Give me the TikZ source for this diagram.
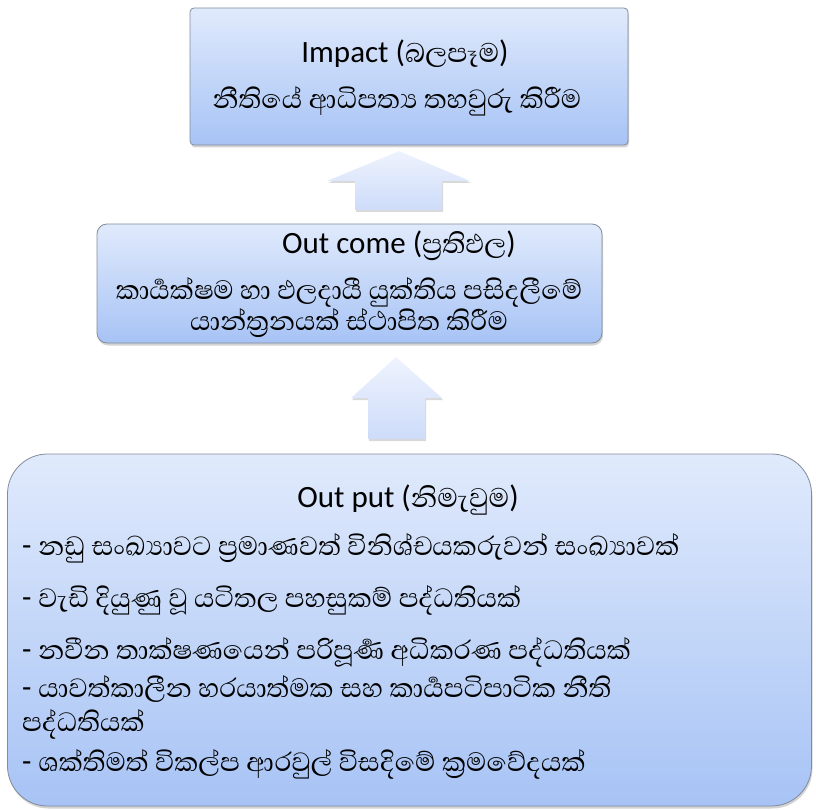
\documentclass[tikz,border=0pt]{standalone}
\usepackage{fontspec}
\setmainfont{Carlito}
\newfontfamily\sinfont[Script=Sinhala, Scale=1.11]{Abhaya Libre}
\usetikzlibrary{shadows}

\definecolor{boxtop}{RGB}{224,234,252}
\definecolor{boxbottom}{RGB}{167,195,245}
\definecolor{boxline}{RGB}{130,140,155}
\definecolor{arrowtop}{RGB}{238,243,253}
\definecolor{arrowbottom}{RGB}{206,220,250}

\tikzset{
  stage/.style={draw=boxline, line width=0.8pt, top color=boxtop, bottom color=boxbottom,
    drop shadow={shadow xshift=1pt, shadow yshift=-2.5pt, opacity=0.35}},
  uparrow/.style={top color=arrowtop, bottom color=arrowbottom,
    drop shadow={shadow xshift=1pt, shadow yshift=-2pt, opacity=0.3}},
  head/.style={anchor=mid, inner sep=0pt, font=\fontsize{31}{36}\selectfont},
  line/.style={anchor=mid, inner sep=0pt, font=\fontsize{30.5}{36}\selectfont},
  item/.style={anchor=mid west, inner sep=0pt, font=\fontsize{30.5}{36}\selectfont},
}

\begin{document}
\begin{tikzpicture}[x=1pt, y=-1pt]
		\useasboundingbox (0,0) rectangle (816,810);

		% boxes
		\node[stage, rounded corners=4pt, minimum width=438pt, minimum height=137pt] (impact) at (409,76.5) {};
		\node[stage, rounded corners=10pt, minimum width=505pt, minimum height=119pt] (outcome) at (349.5,283.5) {};
		\node[stage, rounded corners=40pt, minimum width=804pt, minimum height=352pt] (output) at (409.5,630) {};

		% block arrows
		\path[uparrow] (355,210) -- (355,181) -- (327,181) -- (399,151) -- (470,181) -- (442,181) -- (442,210) -- cycle;
		\path[uparrow] (368,439) -- (368,398) -- (351,398) -- (396,357) -- (442,398) -- (425,398) -- (425,439) -- cycle;

		% impact
		\node[head] (impacthead) at (405,60) {Impact ({\sinfont බලපෑම})};
		\node[line] (impacttext) at (397,106) {\sinfont නීතියේ ආධිපත්^^^^200dය තහවුරු කිරීම};

		% out come
		\node[head] (outcomehead) at (399,251) {Out come ({\sinfont ප්^^^^200dරතිඵල})};
		\node[line] (outcometexta) at (349,297) {\sinfont කාර්^^^^200dයක්ෂම හා ඵලදායී යුක්තිය පසිදලීමේ};
		\node[line] (outcometextb) at (349,328) {\sinfont යාන්ත්^^^^200dරනයක් ස්ථාපිත කිරීම};

		% out put
		\node[head] (outputhead) at (408,505) {Out put ({\sinfont නිමැවුම})};
		\node[item] (itema) at (22,553) {- {\sinfont නඩු සංඛ්^^^^200dයාවට ප්^^^^200dරමාණවත් විනිශ්චයකරුවන් සංඛ්^^^^200dයාවක්}};
		\node[item] (itemb) at (22,605) {- {\sinfont වැඩි දියුණු වූ යටිතල පහසුකම් පද්ධතියක්}};
		\node[item] (itemc) at (22,657) {- {\sinfont නවීන තාක්ෂණයෙන් පරිපූර්^^^^200dණ අධිකරණ පද්ධතියක්}};
		\node[item] (itemd) at (22,695) {- {\sinfont යාවත්කාලීන හරයාත්මක සහ කාර්^^^^200dයපටිපාටික නීති}};
		\node[item] (itemdd) at (22,729) {\sinfont පද්ධතියක්};
		\node[item] (iteme) at (22,769) {- {\sinfont ශක්තිමත් විකල්ප ආරවුල් විසදිමේ ක්^^^^200dරමවේදයක්}};

	\end{tikzpicture}
\end{document}
